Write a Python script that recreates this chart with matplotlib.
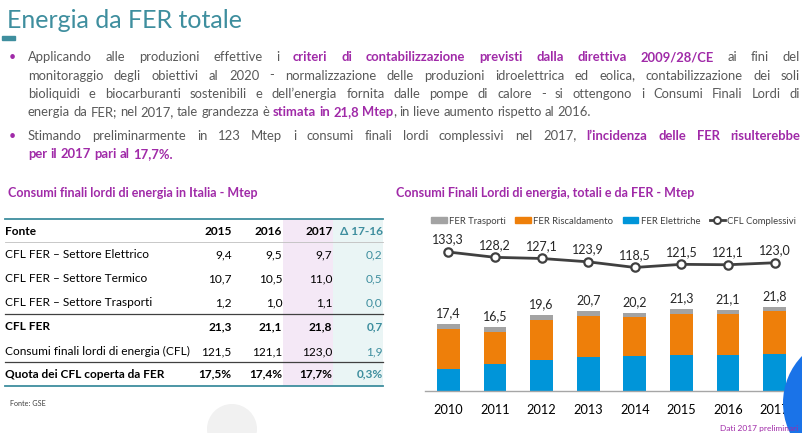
import matplotlib
matplotlib.use('Agg')
import matplotlib.pyplot as plt
from matplotlib.patches import Rectangle, Ellipse
from matplotlib.lines import Line2D

# dati del grafico
anni = [2010, 2011, 2012, 2013, 2014, 2015, 2016, 2017]
fer_elettriche = [5.8, 7.1, 8.0, 8.9, 9.2, 9.4, 9.5, 9.7]
fer_riscaldamento = [10.3, 8.2, 10.3, 10.6, 9.9, 10.7, 10.5, 11.0]
fer_trasporti = [1.3, 1.2, 1.3, 1.2, 1.1, 1.2, 1.0, 1.1]
fer_totale = [17.4, 16.5, 19.6, 20.7, 20.2, 21.3, 21.1, 21.8]
cfl_complessivi = [133.3, 128.2, 127.1, 123.9, 118.5, 121.5, 121.1, 123.0]

# dati della tabella
fonti = ['CFL FER – Settore Elettrico', 'CFL FER – Settore Termico',
         'CFL FER – Settore Trasporti', 'CFL FER',
         'Consumi finali lordi di energia (CFL)', 'Quota dei CFL coperta da FER']
val_2015 = [9.4, 10.7, 1.2, 21.3, 121.5, 17.5]
val_2016 = [9.5, 10.5, 1.0, 21.1, 121.1, 17.4]
val_2017 = [9.7, 11.0, 1.1, 21.8, 123.0, 17.7]
delta_17_16 = [0.2, 0.5, 0.0, 0.7, 1.9, 0.3]
intestazioni = ['Fonte', '2015', '2016', '2017', 'Δ 17-16']

W, H = 803, 433
TEAL = '#3e8e9e'
VIOLA = '#a02aa8'
GRIGIO = '#595959'

plt.rcParams['font.family'] = ['Lato', 'DejaVu Sans']


def fx(x):
    return x / W


def fy(y):
    return 1 - y / H


def fmt(v, perc=False):
    s = f"{v:.1f}".replace('.', ',')
    return s + '%' if perc else s


fig = plt.figure(figsize=(W / 100, H / 100), dpi=100)
fig.patch.set_facecolor('white')
renderer = fig.canvas.get_renderer()


def riga(x0, y, segmenti, x1=None, size=9.4):
    """Scrive una riga di testo con stili misti, giustificata se x1 e' dato."""
    parole = [[]]
    for testo, stile in segmenti:
        parti = testo.split(' ')
        for i, p in enumerate(parti):
            if i > 0:
                parole.append([])
            if p:
                parole[-1].append((p, stile))
    parole = [p for p in parole if p]
    artisti = []
    larghezze = []
    for parola in parole:
        pezzi = []
        tot = 0
        for p, stile in parola:
            if stile == 'b':
                t = fig.text(fx(x0), fy(y), p, fontsize=size, color=VIOLA,
                             fontweight='bold', va='baseline')
            else:
                t = fig.text(fx(x0), fy(y), p, fontsize=size, color=GRIGIO,
                             va='baseline')
            w = t.get_window_extent(renderer).width
            pezzi.append((t, w))
            tot += w
        artisti.append(pezzi)
        larghezze.append(tot)
    if x1 is not None and len(parole) > 1:
        gap = (x1 - x0 - sum(larghezze)) / (len(parole) - 1)
    else:
        gap = size * 100 / 72 * 0.25
    x = x0
    for pezzi, tot in zip(artisti, larghezze):
        xx = x
        for t, w in pezzi:
            t.set_position((fx(xx), fy(y)))
            xx += w
        x += tot + gap


def cerchio(cx, cy, r, colore):
    fig.add_artist(Ellipse((fx(cx), fy(cy)), 2 * r / W, 2 * r / H,
                           color=colore, lw=0, transform=fig.transFigure,
                           zorder=1))


# titolo
fig.text(fx(7), fy(28.5), 'Energia da FER totale', fontsize=18, color=TEAL,
         va='baseline')
fig.add_artist(Rectangle((fx(2), fy(40)), fx(13), 4 / H, color=TEAL,
                         transform=fig.transFigure))

# testo puntato
X0, X1 = 28, 800
for yb in (57, 136):
    fig.text(fx(9), fy(yb), '•', fontsize=9, color=VIOLA, va='center')
riga(X0, 61, [('Applicando alle produzioni effettive i ', 'n'),
              ('criteri di contabilizzazione previsti dalla direttiva 2009/28/CE', 'b'),
              (' ai fini del', 'n')], X1)
riga(X0, 79.5, [('monitoraggio degli obiettivi al 2020 - normalizzazione delle produzioni '
                 'idroelettrica ed eolica, contabilizzazione dei soli', 'n')], X1)
riga(X0, 98, [('bioliquidi e biocarburanti sostenibili e dell’energia fornita dalle '
               'pompe di calore - si ottengono i Consumi Finali Lordi di', 'n')], X1)
riga(X0, 116.5, [('energia da FER; nel 2017, tale grandezza è ', 'n'),
                 ('stimata in 21,8 Mtep', 'b'),
                 (', in lieve aumento rispetto al 2016.', 'n')])
riga(X0, 139.5, [('Stimando preliminarmente in 123 Mtep i consumi finali lordi '
                  'complessivi nel 2017, ', 'n'),
                 ('l’incidenza delle FER risulterebbe', 'b')], X1)
riga(X0, 158, [('per il 2017 pari al 17,7%.', 'b')])

# ---- tabella ----
fig.text(fx(8), fy(193), 'Consumi finali lordi di energia in Italia - Mtep',
         fontsize=9, fontweight='bold', color=VIOLA, va='center')

T_TOP, T_BOT = 218.5, 386
fig.add_artist(Rectangle((fx(282.7), fy(T_BOT)), fx(333.3) - fx(282.7),
                         (T_BOT - T_TOP) / H, color='#f4e8f6', lw=0,
                         transform=fig.transFigure))
fig.add_artist(Rectangle((fx(333.3), fy(T_BOT)), fx(383) - fx(333.3),
                         (T_BOT - T_TOP) / H, color='#eaf5f5', lw=0,
                         transform=fig.transFigure))
for yl, col, lw in [(T_TOP, TEAL, 1.3), (242, '#bfbfbf', 0.6),
                    (314.3, '#404040', 0.9), (362.3, '#404040', 0.9),
                    (T_BOT, TEAL, 1.3)]:
    fig.add_artist(Line2D([fx(5), fx(383)], [fy(yl), fy(yl)], color=col,
                          lw=lw, transform=fig.transFigure))

col_x = [5, 231.7, 282.3, 332.3, 382.7]
y_righe = [255, 279, 303, 326.7, 351.7, 374.3]
FS_TAB = 8.6
for j, h in enumerate(intestazioni):
    fig.text(fx(col_x[j]), fy(231.7), h, fontsize=FS_TAB, fontweight='bold',
             color=TEAL if j == 4 else 'black', va='center',
             ha='left' if j == 0 else 'right')
for i, fonte in enumerate(fonti):
    peso = 'bold' if i in (3, 5) else 'normal'
    perc = i == 5
    celle = [fonte, fmt(val_2015[i], perc), fmt(val_2016[i], perc),
             fmt(val_2017[i], perc), fmt(delta_17_16[i], perc)]
    for j, c in enumerate(celle):
        fig.text(fx(col_x[j]), fy(y_righe[i]), c, fontsize=FS_TAB,
                 fontweight=peso, color=TEAL if j == 4 else 'black',
                 va='center', ha='left' if j == 0 else 'right')
fig.text(fx(10), fy(404), 'Fonte: GSE', fontsize=5.2, color='#404040',
         va='center')

# ---- grafico ----
fig.text(fx(396.5), fy(193), 'Consumi Finali Lordi di energia, totali e da FER - Mtep',
         fontsize=9, fontweight='bold', color=VIOLA, va='center')

BASE, TOP = 391.3, 235
ax = fig.add_axes([fx(425), fy(BASE), fx(803) - fx(425), (BASE - TOP) / H])
x = list(range(len(anni)))
blu, ara, gri = '#0095d9', '#ee7f0a', '#a3a3a3'
ax.bar(x, fer_elettriche, width=0.49, color=blu, label='FER Elettriche')
base2 = fer_elettriche
ax.bar(x, fer_riscaldamento, width=0.49, bottom=base2, color=ara,
       label='FER Riscaldamento')
base3 = [a + b for a, b in zip(fer_elettriche, fer_riscaldamento)]
top_bars = ax.bar(x, fer_trasporti, width=0.49, bottom=base3, color=gri,
                  label='FER Trasporti')
ax.bar_label(top_bars, labels=[fmt(v) for v in fer_totale], padding=3.5,
             fontsize=9, color='#262626')
# l'asse prosegue fino al bordo destro della slide
ax.set_xlim(-0.5, -0.5 + len(anni) * (803 - 425) / (798 - 425))
ax.set_ylim(0, (BASE - TOP) / 3.87)
ax.set_xticks(x)
ax.set_xticklabels([str(a) for a in anni], fontsize=9.2, color='black')
ax.tick_params(axis='x', length=0, pad=9)
ax.set_yticks([])
for s in ('left', 'right', 'top'):
    ax.spines[s].set_visible(False)
ax.spines['bottom'].set_color('#a6a6a6')
ax.spines['bottom'].set_linewidth(1.0)

ax2 = ax.twinx()
ax2.plot(x, cfl_complessivi, color='#404040', lw=2, marker='o', markersize=6,
         markerfacecolor='white', markeredgecolor='#404040', markeredgewidth=1.6,
         label='CFL Complessivi')
for xi, v in zip(x, cfl_complessivi):
    ax2.annotate(fmt(v), (xi, v), xytext=(0, 9), textcoords='offset points',
                 ha='center', va='center', fontsize=9, color='#262626')
ax2.set_ylim(0, (BASE - TOP) / 1.045)
ax2.set_yticks([])
for s in ax2.spines.values():
    s.set_visible(False)

maniglie = [Rectangle((0, 0), 1, 1, color=gri), Rectangle((0, 0), 1, 1, color=ara),
            Rectangle((0, 0), 1, 1, color=blu),
            Line2D([], [], color='#404040', lw=2, marker='o', markersize=5,
                   markerfacecolor='white', markeredgewidth=1.4)]
fig.legend(maniglie, ['FER Trasporti', 'FER Riscaldamento', 'FER Elettriche',
                      'CFL Complessivi'],
           loc='center left', bbox_to_anchor=(fx(431), fy(221)), ncol=4,
           frameon=False, fontsize=6.8, handlelength=1.65, handleheight=0.6,
           handletextpad=0.25, columnspacing=1.0, labelcolor='#404040',
           borderaxespad=0, borderpad=0)

# elementi sovrapposti alla slide
cerchio(232, 429, 25, '#f1f1f1')
cerchio(850.6, 403, 67.6, '#1a73e8')
fig.text(fx(798), fy(428), 'Dati 2017 preliminari', fontsize=6.0, color=VIOLA,
         va='center', ha='right', zorder=5)

fig.savefig('out.png', dpi=100)
